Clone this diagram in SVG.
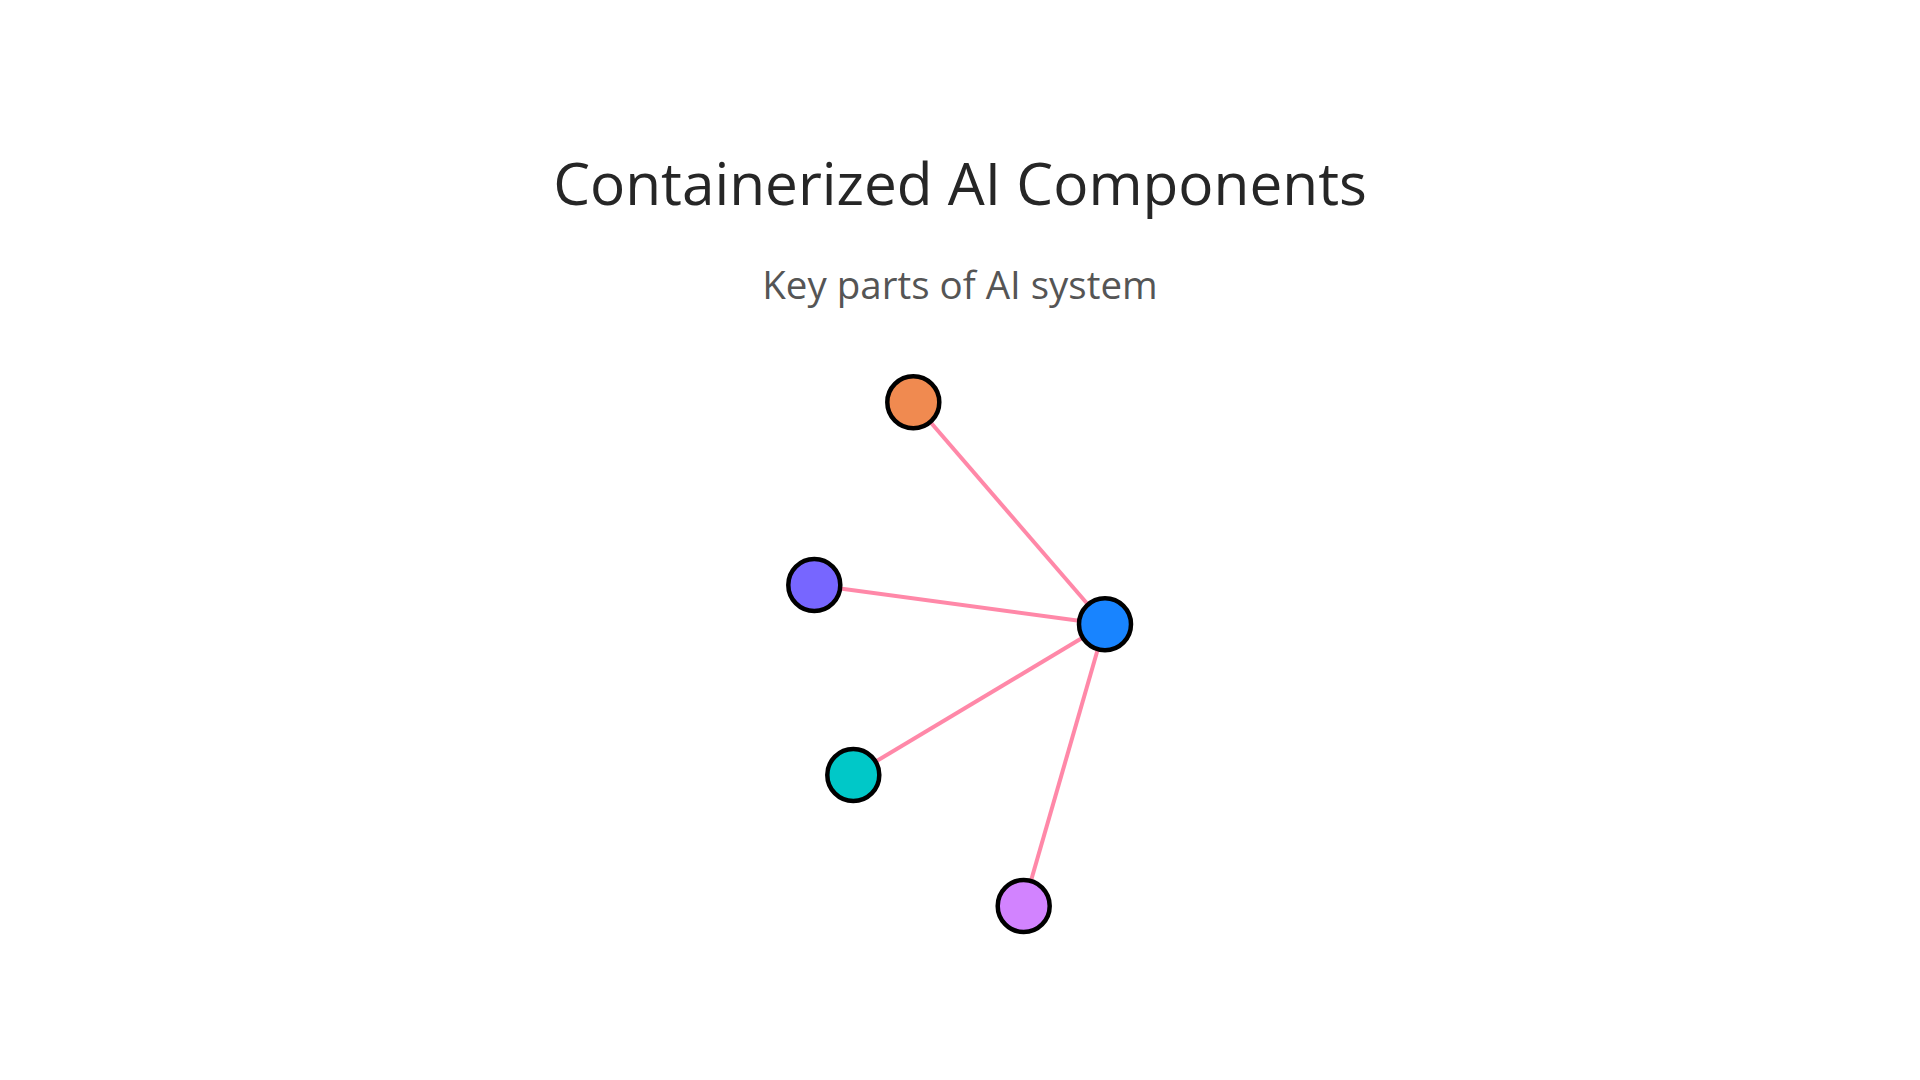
<svg xmlns="http://www.w3.org/2000/svg" width="1920" height="1080" viewBox="0 0 1920 1080">
<style>
.title{font-family:"Open Sans","Noto Sans",sans-serif;font-size:58.5px;fill:#262626;text-anchor:middle}
.sub{font-family:"Open Sans","Noto Sans",sans-serif;font-size:38.5px;fill:#555555;text-anchor:middle}
.edge{stroke:#FF88A8;stroke-width:4;fill:none}
.node{stroke:#000000;stroke-width:4.5}
</style>
<rect width="1920" height="1080" fill="#FFFFFF"/>
<text class="title" x="960" y="204.5">Containerized AI Components</text>
<text class="sub" x="960" y="299">Key parts of AI system</text>
<g id="connectors">
<line class="edge" x1="913.3" y1="402.3" x2="1105" y2="624.3"/>
<line class="edge" x1="814.3" y1="585" x2="1105" y2="624.3"/>
<line class="edge" x1="853.3" y1="775" x2="1105" y2="624.3"/>
<line class="edge" x1="1023.7" y1="906" x2="1105" y2="624.3"/>
</g>
<g id="node-orange"><circle class="node" cx="913.3" cy="402.3" r="26" fill="#F08A50"/></g>
<g id="node-purple"><circle class="node" cx="814.3" cy="585" r="26" fill="#7766FF"/></g>
<g id="node-blue"><circle class="node" cx="1105" cy="624.3" r="26" fill="#1884FF"/></g>
<g id="node-teal"><circle class="node" cx="853.3" cy="775" r="26" fill="#00C8C8"/></g>
<g id="node-violet"><circle class="node" cx="1023.7" cy="906" r="26" fill="#D283FF"/></g>
</svg>
